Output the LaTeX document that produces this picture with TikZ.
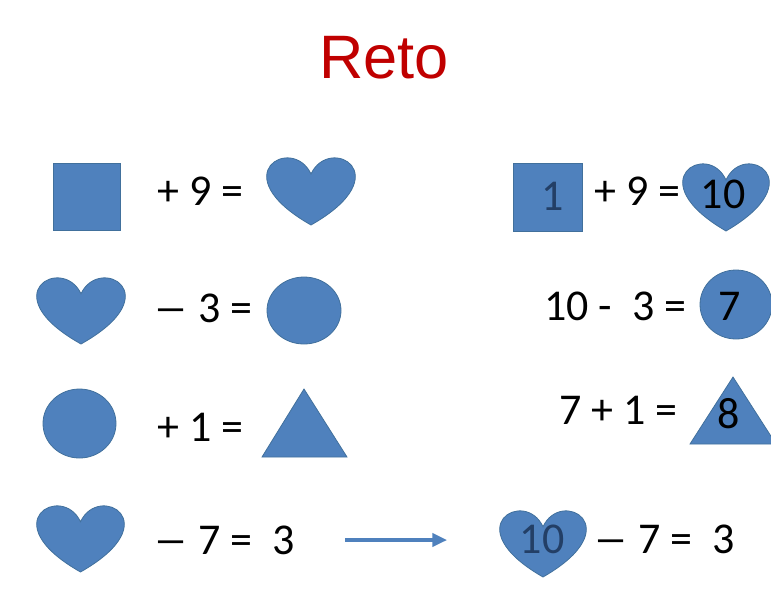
\documentclass[tikz,border=0pt]{standalone}
\usepackage{fontspec}
\usepackage{graphicx}
\setmainfont{Carlito}
\newfontfamily\titlefont{Liberation Sans}
\usetikzlibrary{arrows.meta}
\definecolor{shapefill}{HTML}{4F81BD}
\definecolor{shapeline}{HTML}{41709C}
\definecolor{titlered}{HTML}{C00000}
\definecolor{navytext}{HTML}{233F66}
\newcommand\longdash{\scalebox{1.6}[1]{–}}
\tikzset{
  shp/.style={fill=shapefill, draw=shapeline, line width=0.6pt},
  eq/.style={anchor=base west, inner sep=0pt, font=\fontsize{33}{38}\selectfont, text=black},
  inlbl/.style={anchor=base, inner sep=0pt, font=\fontsize{33}{38}\selectfont},
  heart/.pic={\path[shp] (0,0.25) .. controls (10/48,-1/3) and (49/48,0.25) .. (0,1)
      .. controls (-49/48,0.25) and (-10/48,-1/3) .. (0,0.25) -- cycle;},
  arr/.style={draw=shapefill, line width=2.3pt, -{Triangle[length=11pt,width=10pt]}}
}
\begin{document}
\begin{tikzpicture}[x=0.75pt,y=-0.75pt]
\useasboundingbox (0,0) rectangle (771,611);
% title
\node[anchor=base, inner sep=0pt, font=\titlefont\fontsize{46}{50}\selectfont, text=titlered] (title) at (384,78) {Reto};
% left column shapes
\path[shp] (53,163) rectangle (120,230);
\pic[xscale=88,yscale=68] at (311,157) {heart};
\pic[xscale=88,yscale=67] at (81,277) {heart};
\path[shp] (304,310.5) ellipse [x radius=37, y radius=33.5];
\path[shp] (79.5,423.5) ellipse [x radius=36.5, y radius=34.5];
\path[shp] (304,389) -- (347,457) -- (262,457) -- cycle;
\pic[xscale=87,yscale=67] at (80.5,505) {heart};
% left equations
\node[eq] (l1) at (157,205) {+ 9 =};
\node[eq] (l2) at (153,322) {\longdash\ 3 =};
\node[eq] (l3) at (157,441) {+ 1 =};
\node[eq] (l4) at (153,554) {\longdash\ 7 =\ \ 3};
% arrow
\coordinate (as) at (345,540);
\coordinate (ae) at (447,540);
\draw[arr] (as) -- (ae);
% right column shapes
\path[shp] (513,163) rectangle (582,231);
\pic[xscale=86,yscale=68] at (726,163) {heart};
\path[shp] (736,304.5) ellipse [x radius=36, y radius=34.5];
\path[shp] (733,377) -- (776,444) -- (690,444) -- cycle;
\pic[xscale=86,yscale=67] at (543,510) {heart};
% right labels in shapes
\node[inlbl, text=navytext] (n1) at (553,210) {1};
\node[inlbl, text=black] (n10) at (723,208) {10};
\node[inlbl, text=black] (n7) at (730,320) {7};
\node[inlbl, text=black] (n8) at (729,428) {8};
\node[inlbl, text=navytext] (n10b) at (542,553) {10};
% right equations
\node[eq] (r1) at (594,205) {+ 9 =};
\node[eq] (r2) at (544,320) {10 -\ \ 3 =};
\node[eq] (r3) at (559,424) {7 + 1 =};
\node[eq] (r4) at (593,553) {\longdash\ 7 =\ \ 3};
\end{tikzpicture}
\end{document}
